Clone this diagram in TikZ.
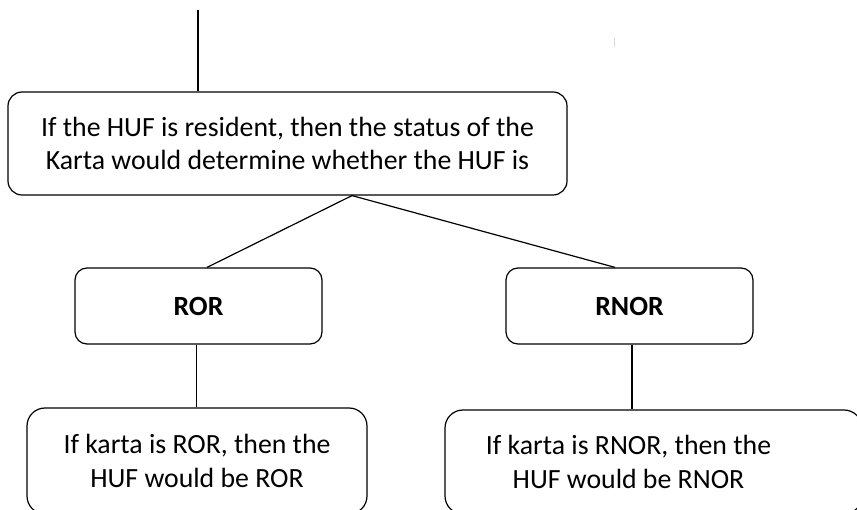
\documentclass[tikz,border=0pt]{standalone}
\usepackage{fontspec}
\setmainfont{Carlito}
\tikzset{
  box/.style={draw, rounded corners=14pt, line width=1.2pt, align=center, inner sep=0pt},
  link/.style={line width=1.2pt},
}
\begin{document}
\begin{tikzpicture}[x=1pt, y=-1pt, font=\fontsize{27.8}{33.5}\selectfont]
  \clip (0,0) rectangle (857,510);

  \node[box, minimum width=559pt, minimum height=103pt] (huf) at (287.5,143.5)
    {If the HUF is resident, then the status of the\\Karta would determine whether the HUF is};

  \node[box, rounded corners=12pt, minimum width=247pt, minimum height=76pt] (ror) at (198.5,306) {\textbf{ROR}};
  \node[box, rounded corners=12pt, minimum width=247pt, minimum height=76pt] (rnor) at (629.5,306) {\textbf{RNOR}};

  \node[box, rounded corners=18pt, minimum width=340pt, minimum height=106pt] (karror) at (197,461)
    {If karta is ROR, then the\\HUF would be ROR};
  \node[box, rounded corners=18pt, minimum width=417pt, minimum height=104pt] (karrnor) at (653.5,462) {};
  \node[align=center] (karrnortext) at ([xshift=-25pt]karrnor.center)
    {If karta is RNOR, then the\\HUF would be RNOR};

  \coordinate (top) at (198,10);
  \draw[link] (top) -- (top |- huf.north);

  \draw[link] ([xshift=64.5pt]huf.south) -- ([xshift=8.5pt]ror.north);
  \draw[link] ([xshift=64.5pt]huf.south) -- ([xshift=-14.5pt]rnor.north);

  \draw[link] ([xshift=-2pt]ror.south) -- ([xshift=-2pt]ror.south |- karror.north);
  \draw[link] ([xshift=2.5pt]rnor.south) -- ([xshift=2.5pt]rnor.south |- karrnor.north);

  \draw[gray!30, line width=1pt] (614,38) -- (614,47);
\end{tikzpicture}
\end{document}
